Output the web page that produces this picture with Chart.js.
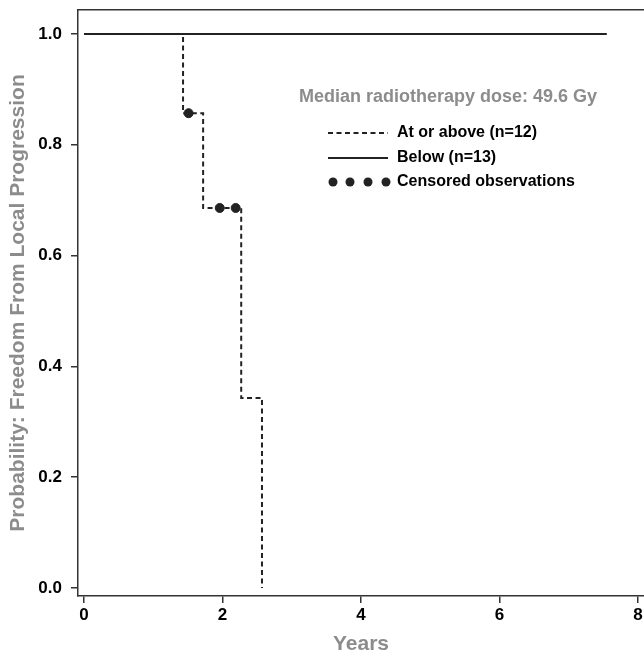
<!DOCTYPE html>
<html>
<head>
<meta charset="utf-8">
<script src="https://cdn.jsdelivr.net/npm/chart.js@4/dist/chart.umd.min.js"></script>
<style>
  body { margin: 0; background: #fff; }
  canvas { display: block; }
</style>
</head>
<body>
<canvas id="chart" width="644" height="655"></canvas>
<script>
// Kaplan-Meier: freedom from local progression by radiotherapy dose

var aboveYears = [0, 1.43, 1.72, 2.27, 2.57];
var aboveProb = [1.0, 0.857, 0.686, 0.343, 0.0];

var belowYears = [0, 7.55];
var belowProb = [1.0, 1.0];

var censorYears = [1.51, 1.96, 2.19];
var censorProb = [0.857, 0.686, 0.686];

var xTicks = [0, 2, 4, 6, 8];
var yTicks = [0, 0.2, 0.4, 0.6, 0.8, 1.0];

var legendTitle = "Median radiotherapy dose: 49.6 Gy";
var legendLabels = ["At or above (n=12)", "Below (n=13)", "Censored observations"];

var gray = "#8c8c8c";
var ink = "#222";

function pts(xs, ys) {
    return xs.map(function(x, i){ return {x: x, y: ys[i]}; });
}

// legend box drawn inside the plot area
var legendPlugin = {
    id: "kmLegend",
    afterDatasetsDraw: function(chart) {
        var ctx = chart.ctx;
        ctx.save();
        ctx.textBaseline = "middle";
        ctx.font = "bold 18px 'Liberation Sans', Arial, sans-serif";
        ctx.fillStyle = gray;
        ctx.textAlign = "center";
        ctx.fillText(legendTitle, 448, 97);

        var rows = [133, 158, 182];
        var x0 = 328, x1 = 388;
        ctx.strokeStyle = ink;
        ctx.lineWidth = 2;

        ctx.setLineDash([5, 3.5]);
        ctx.beginPath(); ctx.moveTo(x0, rows[0]); ctx.lineTo(x1, rows[0]); ctx.stroke();
        ctx.setLineDash([]);
        ctx.beginPath(); ctx.moveTo(x0, rows[1]); ctx.lineTo(x1, rows[1]); ctx.stroke();
        ctx.fillStyle = ink;
        [333, 350, 368, 386].forEach(function(cx){
            ctx.beginPath(); ctx.arc(cx, rows[2], 4.5, 0, Math.PI * 2); ctx.fill();
        });

        ctx.font = "bold 16px 'Liberation Sans', Arial, sans-serif";
        ctx.textAlign = "left";
        ctx.fillStyle = "#000";
        legendLabels.forEach(function(t, i){ ctx.fillText(t, 397, rows[i]); });
        ctx.restore();
    }
};

var tickFont = {family: "'Liberation Sans', Arial, sans-serif", size: 17, weight: "bold"};
var titleFont = {family: "'Liberation Sans', Arial, sans-serif", size: 21, weight: "bold", lineHeight: 1};

function noPad(s) {
    s.paddingTop = 0;
    s.paddingBottom = 0;
    s.paddingLeft = 0;
    s.paddingRight = 0;
}

var ctx = document.getElementById("chart").getContext("2d");
var myChart = new Chart(ctx, {
    type: "line",
    data: {
        datasets: [
            {
                label: "Below (n=13)",
                data: pts(belowYears, belowProb),
                borderColor: ink,
                borderWidth: 2,
                stepped: true,
                pointRadius: 0,
                fill: false,
                order: 3
            },
            {
                label: "At or above (n=12)",
                data: pts(aboveYears, aboveProb),
                borderColor: ink,
                borderWidth: 2,
                borderDash: [5, 3.5],
                stepped: true,
                pointRadius: 0,
                fill: false,
                order: 2
            },
            {
                label: "Censored observations",
                type: "scatter",
                data: pts(censorYears, censorProb),
                backgroundColor: ink,
                borderColor: ink,
                pointRadius: 4.5,
                showLine: false,
                order: 1
            }
        ]
    },
    options: {
        responsive: false,
        animation: false,
        devicePixelRatio: 1,
        layout: {padding: 0, autoPadding: false},
        plugins: {
            legend: {display: false},
            tooltip: {enabled: false}
        },
        scales: {
            x: {
                type: "linear",
                position: "bottom",
                min: -0.087,
                max: 8.087,
                afterBuildTicks: function(s){ s.ticks = xTicks.map(function(v){ return {value: v}; }); },
                afterFit: function(s){ s.height = 59; noPad(s); },
                ticks: {
                    font: tickFont,
                    color: "#000",
                    padding: 2,
                    maxRotation: 0,
                    callback: function(v){ return String(v); }
                },
                grid: {drawOnChartArea: false, drawTicks: true, tickLength: 7, color: "#333", lineWidth: 1.5},
                border: {display: true, color: "#333", width: 1.5},
                title: {display: true, text: "Years", color: gray, font: titleFont, padding: {top: 0, bottom: 0}}
            },
            x2: {
                type: "linear",
                position: "top",
                min: -0.087,
                max: 8.087,
                afterFit: function(s){ s.height = 10; noPad(s); },
                ticks: {display: false},
                grid: {display: false, drawTicks: false},
                border: {display: true, color: "#333", width: 1.5}
            },
            y: {
                type: "linear",
                position: "left",
                min: -0.0144,
                max: 1.0433,
                afterBuildTicks: function(s){ s.ticks = yTicks.map(function(v){ return {value: v}; }); },
                afterFit: function(s){ s.width = 78; noPad(s); },
                ticks: {
                    font: tickFont,
                    color: "#000",
                    padding: 9,
                    callback: function(v){ return Number(v).toFixed(1); }
                },
                grid: {drawOnChartArea: false, drawTicks: true, tickLength: 7, color: "#333", lineWidth: 1.5},
                border: {display: true, color: "#333", width: 1.5},
                title: {display: true, text: "Probability: Freedom From Local Progression", color: gray, font: titleFont, padding: {top: 8, bottom: 0}}
            }
        }
    },
    plugins: [legendPlugin]
});
</script>
</body>
</html>
